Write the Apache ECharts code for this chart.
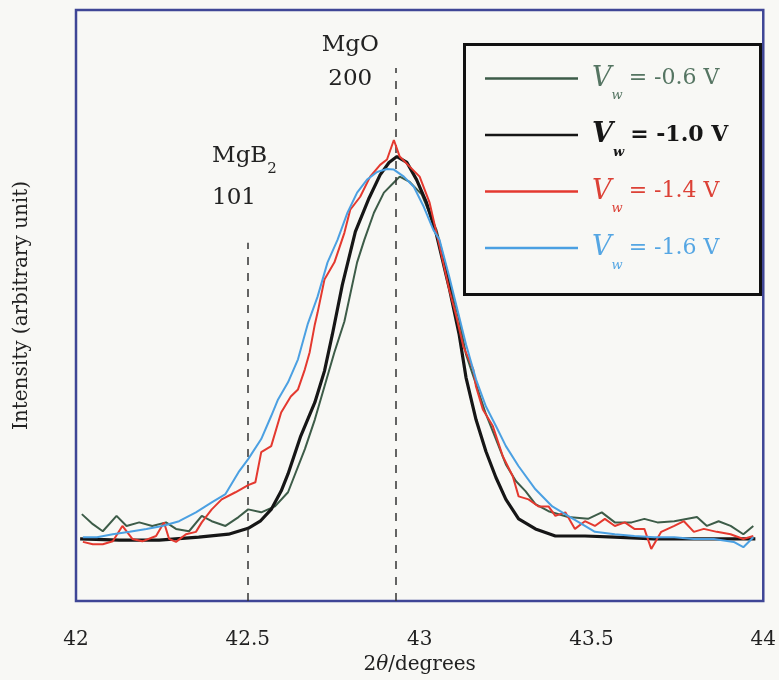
<!DOCTYPE html>
<html><head><meta charset="utf-8">
<script src="https://cdn.jsdelivr.net/npm/echarts@6/dist/echarts.min.js"></script>
<style>html,body{margin:0;padding:0;background:#f8f8f5}#c{width:779px;height:680px}</style>
</head><body><div id="c"></div>
<script>
const xTicks = [42, 42.5, 43, 43.5, 44];
const legendNames = ['Vw = -0.6 V', 'Vw = -1.0 V', 'Vw = -1.4 V', 'Vw = -1.6 V'];
const legendValues = ['-0.6 V', '-1.0 V', '-1.4 V', '-1.6 V'];

const x06 = [42.017,42.049,42.078,42.118,42.147,42.184,42.222,42.262,42.291,42.329,42.366,42.395,42.435,42.473,42.501,42.539,42.579,42.617,42.666,42.695,42.723,42.752,42.781,42.818,42.839,42.867,42.896,42.925,42.942,42.971,43.006,43.049,43.086,43.115,43.135,43.164,43.193,43.222,43.251,43.280,43.308,43.337,43.375,43.432,43.490,43.530,43.568,43.617,43.654,43.692,43.741,43.807,43.836,43.870,43.905,43.942,43.971];
const y06 = [14.7,13.0,11.8,14.4,12.7,13.3,12.7,13.3,12.2,11.8,14.4,13.5,12.7,14.2,15.5,15.0,16.0,18.4,25.7,30.7,36.3,42.1,47.3,57.3,61.1,65.7,69.1,70.8,71.8,70.9,68.8,62.8,54.4,47.6,41.7,36.7,31.6,27.4,23.1,20.3,18.6,16.4,15.2,14.2,13.9,15.0,13.3,13.3,13.9,13.3,13.5,14.2,12.7,13.5,12.7,11.3,12.7];

const x10 = [42.012,42.127,42.242,42.357,42.444,42.501,42.536,42.568,42.597,42.617,42.654,42.695,42.723,42.746,42.775,42.813,42.853,42.885,42.911,42.934,42.963,42.991,43.020,43.049,43.086,43.115,43.135,43.164,43.193,43.222,43.251,43.288,43.337,43.395,43.481,43.568,43.683,43.798,43.914,43.977];
const y10 = [10.5,10.3,10.3,10.8,11.3,12.3,13.5,15.5,18.6,21.5,27.9,33.6,38.9,45.1,53.5,62.5,68.2,72.1,74.2,75.2,74.2,71.3,67.4,62.0,53.0,45.1,37.8,30.7,25.3,20.9,17.2,13.9,12.2,11.0,11.0,10.8,10.5,10.5,10.5,10.5];

const x14 = [42.020,42.049,42.078,42.107,42.135,42.164,42.193,42.233,42.256,42.271,42.291,42.320,42.349,42.366,42.395,42.424,42.464,42.501,42.522,42.539,42.568,42.597,42.625,42.646,42.666,42.680,42.695,42.703,42.723,42.752,42.781,42.798,42.827,42.856,42.885,42.905,42.925,42.942,42.971,43.000,43.029,43.058,43.086,43.107,43.127,43.156,43.164,43.184,43.213,43.242,43.271,43.288,43.317,43.346,43.375,43.395,43.424,43.452,43.481,43.510,43.539,43.568,43.597,43.625,43.654,43.674,43.703,43.741,43.769,43.798,43.827,43.865,43.905,43.942,43.971];
const y14 = [10.0,9.6,9.6,10.1,12.7,10.5,10.1,11.0,13.3,10.5,10.0,11.3,11.7,13.3,15.5,17.2,18.4,19.6,20.1,25.2,26.2,31.9,34.6,35.8,39.2,42.1,46.8,48.8,54.4,57.3,62.3,66.2,68.4,71.8,73.8,74.7,78.0,75.2,73.5,71.8,67.4,60.0,52.7,48.1,43.1,39.2,36.3,32.4,29.6,24.5,21.1,17.7,17.2,16.0,16.0,14.4,15.0,12.2,13.5,12.7,13.9,12.7,13.3,12.2,12.2,8.8,11.7,12.7,13.5,11.7,12.2,11.7,11.3,10.5,11.0];

const x16 = [42.020,42.061,42.107,42.156,42.205,42.251,42.300,42.349,42.395,42.435,42.473,42.501,42.539,42.568,42.588,42.617,42.646,42.674,42.703,42.732,42.761,42.790,42.818,42.847,42.876,42.905,42.925,42.954,42.983,43.012,43.040,43.058,43.086,43.115,43.135,43.164,43.193,43.222,43.251,43.288,43.337,43.386,43.432,43.481,43.510,43.568,43.625,43.683,43.741,43.798,43.856,43.914,43.942,43.971];
const y16 = [10.8,10.8,11.3,11.7,12.2,12.7,13.5,15.0,16.7,18.1,21.8,24.0,27.4,31.3,34.1,37.0,40.9,46.8,51.5,57.3,61.1,65.7,69.1,71.3,72.6,73.1,73.0,71.8,70.1,66.7,62.8,61.1,54.9,48.1,43.4,37.5,32.9,29.6,26.2,22.8,18.9,16.0,14.4,12.7,11.7,11.3,11.0,10.8,10.8,10.5,10.5,10.0,9.1,10.8];

// reference peak positions (degrees) and dashed-line tops
const peakMgB2 = 42.5, peakMgB2Top = 60.6;
const peakMgO = 42.93, peakMgOTop = 90.2;

const zip = (xs, ys) => xs.map((v, i) => [v, ys[i]]);
const FONT = '"DejaVu Serif", serif';
const colors = ['#3d5c48', '#161616', '#e4392f', '#4ba0e2'];
const textColors = ['#557562', '#161616', '#dc4136', '#55a6e3'];
const widths = [2, 3.2, 2, 2];
const datas = [zip(x06, y06), zip(x10, y10), zip(x14, y14), zip(x16, y16)];

const series = legendNames.map((n, i) => ({
  name: n, type: 'line', data: datas[i], symbol: 'none', showSymbol: false,
  lineStyle: { color: colors[i], width: widths[i] }, itemStyle: { color: colors[i] },
  z: 3 + i, silent: true, animation: false
}));

series[0].markLine = {
  silent: true, symbol: 'none', animation: false,
  lineStyle: { color: '#333', type: [8, 8], width: 1.5 },
  label: { show: false },
  data: [
    [{ coord: [peakMgB2, 0] }, { coord: [peakMgB2, peakMgB2Top] }],
    [{ coord: [peakMgO, 0] }, { coord: [peakMgO, peakMgOTop] }]
  ]
};
series[0].markPoint = {
  silent: true, symbol: 'circle', symbolSize: 0, animation: false,
  itemStyle: { color: 'transparent' },
  label: { show: true, position: 'inside', fontFamily: FONT, color: '#222', fontSize: 23 },
  data: [
    { coord: [42.798, 91.2], label: { formatter: 'MgO\n200', lineHeight: 34, align: 'center' } },
    { coord: [42.396, 71.8], label: { formatter: '{a|MgB}{s|2}\n{a|101}', align: 'left',
        rich: { a: { fontFamily: FONT, fontSize: 23, color: '#222', lineHeight: 42 },
                s: { fontFamily: FONT, fontSize: 15, color: '#222', lineHeight: 42, verticalAlign: 'bottom' } } } }
  ]
};

const legendData = legendNames.map((n, i) => ({
  name: n,
  itemStyle: { color: colors[i] },
  textStyle: {
    rich: {
      v: { fontFamily: FONT, fontStyle: 'italic', fontSize: 27, color: textColors[i], lineHeight: 48, padding: [0, 0, 0, 9], fontWeight: i === 1 ? 'bold' : 'normal' },
      w: { fontFamily: FONT, fontStyle: 'italic', fontSize: 13, color: textColors[i], lineHeight: 48, verticalAlign: 'bottom', fontWeight: i === 1 ? 'bold' : 'normal' },
      t: { fontFamily: FONT, fontSize: 22, color: textColors[i], lineHeight: 48, padding: [0, 0, 0, 6], fontWeight: i === 1 ? 'bold' : 'normal' }
    }
  }
}));

const chart = echarts.init(document.getElementById('c'), null, { renderer: 'canvas' });
chart.setOption({
  backgroundColor: '#f8f8f5',
  animation: false,
  grid: { left: 76, right: 11, top: 10, bottom: 78, show: true, borderColor: '#3f4696', borderWidth: 2.5, backgroundColor: 'transparent' },
  xAxis: {
    type: 'value', min: xTicks[0], max: xTicks[xTicks.length - 1], interval: 0.5,
    axisLine: { show: false }, axisTick: { show: false }, splitLine: { show: false },
    axisLabel: { fontFamily: FONT, fontSize: 20, color: '#222', margin: 29, formatter: v => String(v) },
    name: '2{i|θ}/degrees', nameLocation: 'middle', nameGap: 54,
    nameTextStyle: { fontFamily: FONT, fontSize: 20, color: '#222',
      rich: { i: { fontFamily: FONT, fontStyle: 'italic', fontSize: 20, color: '#222' } } }
  },
  yAxis: {
    type: 'value', min: 0, max: 100,
    axisLine: { show: false }, axisTick: { show: false }, splitLine: { show: false }, axisLabel: { show: false },
    name: 'Intensity (arbitrary unit)', nameLocation: 'middle', nameGap: 44, nameRotate: 90,
    nameTextStyle: { fontFamily: FONT, fontSize: 20, color: '#222' }
  },
  legend: {
    orient: 'vertical', left: 485, top: 65, itemWidth: 93, itemHeight: 2.5, itemGap: 19,
    padding: 0, selectedMode: false, icon: 'rect',
    data: legendData,
    formatter: name => '{v|V}{w|w}{t|= ' + legendValues[legendNames.indexOf(name)] + '}'
  },
  graphic: [{
    type: 'rect', left: 463, top: 43, z: 1,
    shape: { width: 296, height: 250 },
    style: { fill: '#f8f8f5', stroke: '#111', lineWidth: 3 }
  }],
  series: series
});
</script></body></html>
